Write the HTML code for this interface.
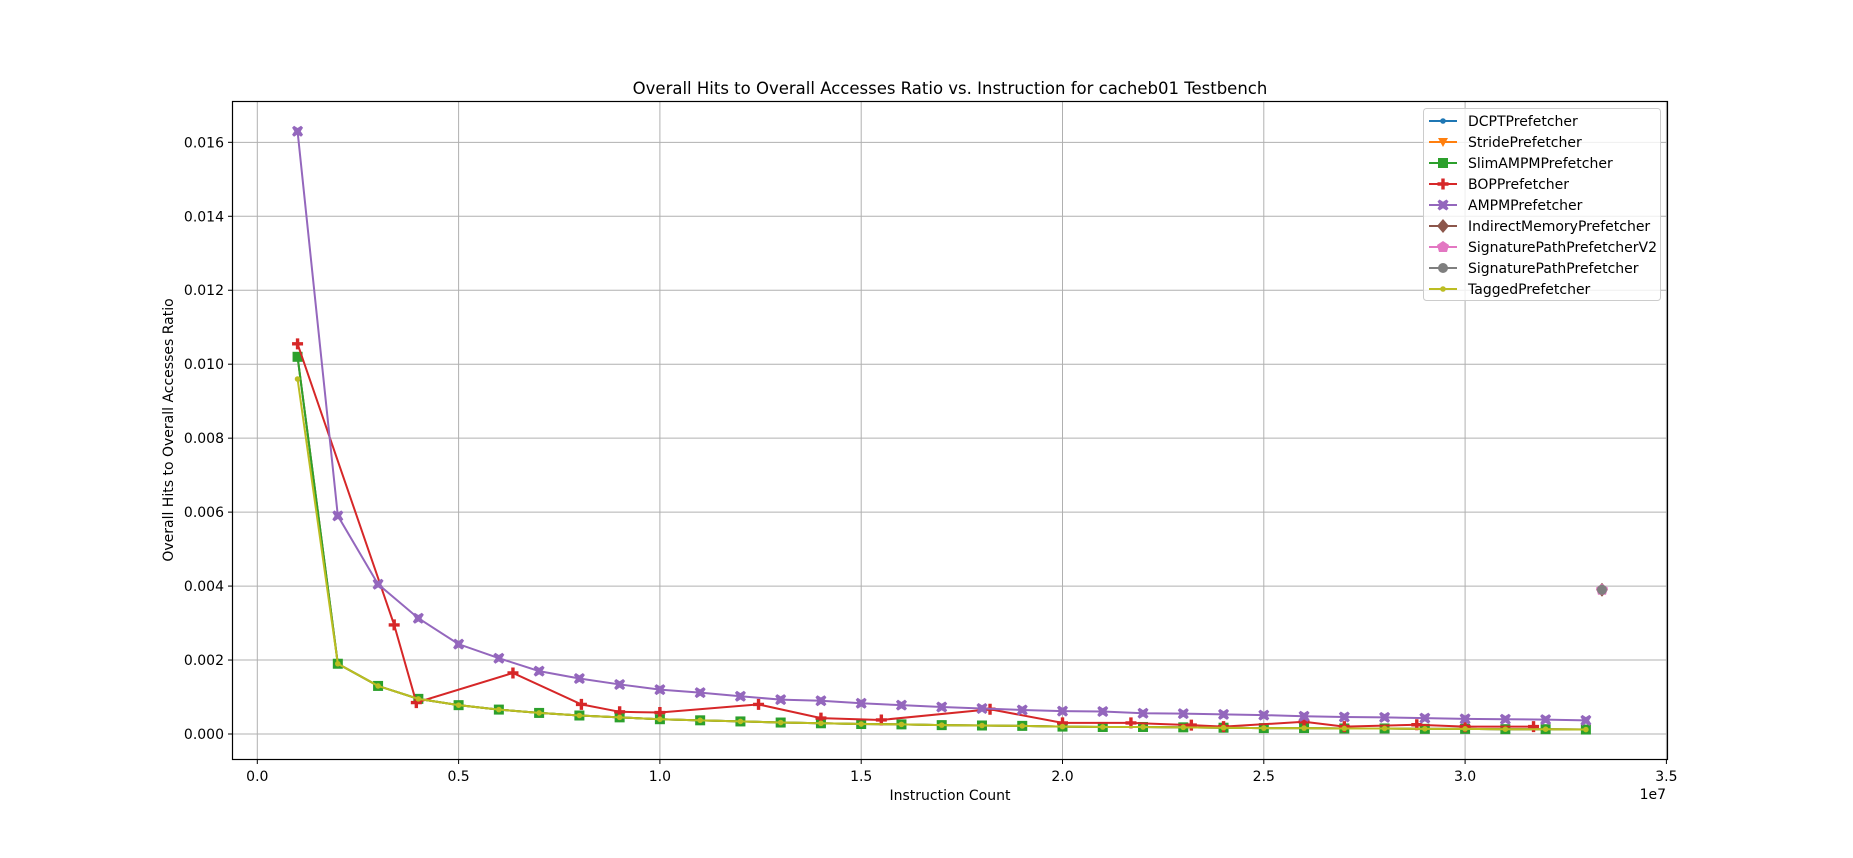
<!DOCTYPE html>
<html><head><meta charset="utf-8"><style>
body{margin:0;background:#fff;width:1853px;height:853px;overflow:hidden;font-family:"Liberation Sans","DejaVu Sans",sans-serif}
</style></head><body>
<svg id="chart" width="1853" height="853" xmlns="http://www.w3.org/2000/svg" font-family="DejaVu Sans, Liberation Sans, sans-serif">
<rect width="1853" height="853" fill="#fff"/>
<text x="950" y="94" text-anchor="middle" font-size="16.5">Overall Hits to Overall Accesses Ratio vs. Instruction for cacheb01 Testbench</text>
<text x="950" y="800" text-anchor="middle" font-size="14">Instruction Count</text>
<text x="1666" y="799" text-anchor="end" font-size="14">1e7</text>
<text transform="translate(173,430) rotate(-90)" text-anchor="middle" font-size="14">Overall Hits to Overall Accesses Ratio</text>
<g id="grid"></g><g id="series"></g>
<rect x="232.5" y="101.5" width="1435" height="658" fill="none" stroke="#000" stroke-width="1.2"/>
<g id="ticks"></g><g id="legend"></g>
</svg>
<script>
const xTicks=[0,0.5,1.0,1.5,2.0,2.5,3.0,3.5];
const xTickLabels=["0.0","0.5","1.0","1.5","2.0","2.5","3.0","3.5"];
const yTicks=[0,0.002,0.004,0.006,0.008,0.010,0.012,0.014,0.016];
const yTickLabels=["0.000","0.002","0.004","0.006","0.008","0.010","0.012","0.014","0.016"];
const xStd=[1,2,3,4,5,6,7,8,9,10,11,12,13,14,15,16,17,18,19,20,21,22,23,24,25,26,27,28,29,30,31,32,33];
const lowVals=[0.0096,0.0019,0.0013,0.00095,0.00078,0.00066,0.00057,0.0005,0.00045,0.0004,0.00037,0.00034,0.00031,0.00029,0.00027,0.00026,0.00024,0.00023,0.00022,0.0002,0.00019,0.00019,0.00018,0.00017,0.00016,0.00016,0.00015,0.00015,0.00014,0.00014,0.00013,0.00013,0.00012];
const slimVals=[0.0102,0.0019,0.0013,0.00095,0.00078,0.00066,0.00057,0.0005,0.00045,0.0004,0.00037,0.00034,0.00031,0.00029,0.00027,0.00026,0.00024,0.00023,0.00022,0.0002,0.00019,0.00019,0.00018,0.00017,0.00016,0.00016,0.00015,0.00015,0.00014,0.00014,0.00013,0.00013,0.00012];
const ampmVals=[0.0163,0.0059,0.00405,0.00313,0.00243,0.00205,0.0017,0.0015,0.00134,0.0012,0.00112,0.00102,0.00093,0.0009,0.00083,0.00078,0.00073,0.00069,0.00065,0.00062,0.00061,0.00056,0.00055,0.00053,0.00051,0.00048,0.00046,0.00045,0.00043,0.00041,0.0004,0.00039,0.00037];
const bopX=[1.0,3.4,3.95,6.35,8.05,9.0,10,12.45,14,15.5,18.2,20,21.7,23.2,24,26,27,28.8,30,31.7];
const bopVals=[0.01055,0.00295,0.00085,0.00165,0.0008,0.0006,0.00058,0.0008,0.00043,0.00038,0.00067,0.0003,0.0003,0.00024,0.0002,0.00033,0.0002,0.00025,0.0002,0.0002];
const indX=[33.4];
const indVals=[0.0039];
const names=["DCPTPrefetcher","StridePrefetcher","SlimAMPMPrefetcher","BOPPrefetcher","AMPMPrefetcher","IndirectMemoryPrefetcher","SignaturePathPrefetcherV2","SignaturePathPrefetcher","TaggedPrefetcher"];
const colors=["#1f77b4","#ff7f0e","#2ca02c","#d62728","#9467bd","#8c564b","#e377c2","#7f7f7f","#bcbd22"];
const markers=["dot","tri","sq","plus","x","dia","pent","circ","dot"];
const X=v=>257.3+v*402.6/10;
const XT=t=>257.3+t*402.6;
const Y=v=>734-v*73.96/0.002;
const NS="http://www.w3.org/2000/svg";
function mk(tag,at,parent){const e=document.createElementNS(NS,tag);for(const k in at)e.setAttribute(k,at[k]);parent.appendChild(e);return e;}
const grid=document.getElementById('grid'),ticks=document.getElementById('ticks');
xTicks.forEach((t,i)=>{const x=XT(t);
 const g=mk('line',{x1:x,x2:x,y1:101.5,y2:759.5,stroke:'#b0b0b0','stroke-width':1},grid);
 
 
 mk('line',{x1:x,x2:x,y1:759.5,y2:764,stroke:'#000'},ticks);
 const l=mk('text',{x:x,y:781,'text-anchor':'middle','font-size':14},ticks);l.textContent=xTickLabels[i];
 
 });
yTicks.forEach((t,i)=>{const y=Y(t);
 const g=mk('line',{x1:232.5,x2:1667.5,y1:y,y2:y,stroke:'#b0b0b0','stroke-width':1},grid);
 
 
 mk('line',{x1:228,x2:232.5,y1:y,y2:y,stroke:'#000'},ticks);
 const l=mk('text',{x:224,y:y+5,'text-anchor':'end','font-size':14},ticks);l.textContent=yTickLabels[i];
 
 });
function marker(type,x,y,c,p){
 switch(type){
 case 'dot':return mk('circle',{cx:x,cy:y,r:2.8,fill:c},p);
 case 'circ':return mk('circle',{cx:x,cy:y,r:5,fill:c},p);
 case 'sq':return mk('rect',{x:x-5,y:y-5,width:10,height:10,fill:c},p);
 case 'tri':return mk('polygon',{points:`${x-5},${y-4} ${x+5},${y-4} ${x},${y+5}`,fill:c},p);
 case 'dia':return mk('polygon',{points:`${x},${y-7} ${x+6},${y} ${x},${y+7} ${x-6},${y}`,fill:c},p);
 case 'pent':return mk('polygon',{points:`${x},${y-6} ${x+6},${y-2} ${x+4},${y+5} ${x-4},${y+5} ${x-6},${y-2}`,fill:c},p);
 case 'plus':return mk('path',{d:`M${x-1.7},${y-5.5}h3.4v3.8h3.8v3.4h-3.8v3.8h-3.4v-3.8h-3.8v-3.4h3.8z`,fill:c},p);
 case 'x':return mk('path',{d:`M${x-5.5},${y-3.5}l2,-2l3.5,2.3l3.5,-2.3l2,2l-2.3,3.5l2.3,3.5l-2,2l-3.5,-2.3l-3.5,2.3l-2,-2l2.3,-3.5z`,fill:c},p);
 }}
const seriesXs=[xStd,xStd,xStd,bopX,xStd,indX,indX,indX,xStd];
const seriesVals=[slimVals,slimVals,slimVals,bopVals,ampmVals,indVals,indVals,indVals,lowVals];
const sg=document.getElementById('series');
names.forEach((n,i)=>{const g=mk('g',{},sg);
 
 
 const xs=seriesXs[i],vs=seriesVals[i];
 const pts=xs.map((x,j)=>X(x)+','+Y(vs[j])).join(' ');
 if(xs.length>1)mk('polyline',{points:pts,fill:'none',stroke:colors[i],'stroke-width':2},g);
 xs.forEach((x,j)=>{const m=marker(markers[i],X(x),Y(vs[j]),colors[i],g);
  
  });});
const lg=document.getElementById('legend');
const lb=mk('rect',{x:1423.5,y:108.5,width:237,height:192,rx:3,fill:'#fff','fill-opacity':0.8,stroke:'#ccc'},lg);


names.forEach((n,i)=>{const y=121+i*21;
 const g=mk('g',{},lg);
 
 
 mk('line',{x1:1429,x2:1457,y1:y,y2:y,stroke:colors[i],'stroke-width':2},g);
 marker(markers[i],1443,y,colors[i],g);
 const t=mk('text',{x:1468,y:y+5,'font-size':14},g);t.textContent=n;});
</script>
</body></html>
